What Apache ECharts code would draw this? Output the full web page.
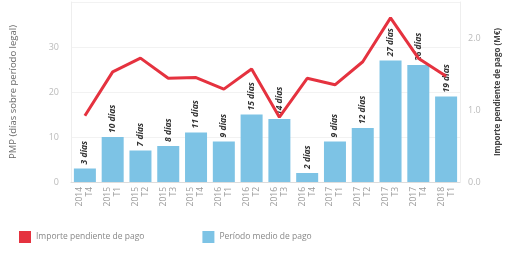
<!DOCTYPE html>
<html>
<head>
<meta charset="utf-8">
<script src="https://cdn.jsdelivr.net/npm/echarts@6/dist/echarts.min.js"></script>
<style>
  html, body { margin: 0; padding: 0; background: #fff; }
  #chart { width: 510px; height: 255px; }
</style>
</head>
<body>
<div id="chart"></div>
<script>
// trimestres
var categories = ['2014\nT4', '2015\nT1', '2015\nT2', '2015\nT3', '2015\nT4', '2016\nT1', '2016\nT2',
  '2016\nT3', '2016\nT4', '2017\nT1', '2017\nT2', '2017\nT3', '2017\nT4', '2018\nT1'];
// periodo medio de pago (dias)
var pmpDias = [3, 10, 7, 8, 11, 9, 15, 14, 2, 9, 12, 27, 26, 19];
// importe pendiente de pago (M€)
var importe = [0.92, 1.53, 1.72, 1.44, 1.45, 1.29, 1.57, 0.9, 1.44, 1.35, 1.67, 2.28, 1.72, 1.47];

var myChart = echarts.init(document.getElementById('chart'));
myChart.setOption({
  animation: false,
  textStyle: { fontFamily: 'Open Sans' },
  grid: { left: 66, right: 47, top: 2, bottom: 73 },
  legend: {
    left: 14, bottom: 7,
    itemWidth: 12, itemHeight: 12, itemGap: 58,
    icon: 'rect',
    textStyle: { fontSize: 8.5, color: '#888' },
    data: ['Importe pendiente de pago', 'Período medio de pago']
  },
  xAxis: {
    type: 'category',
    data: categories,
    axisLine: { lineStyle: { color: '#ddd' } },
    axisTick: { show: false },
    axisLabel: { rotate: 90, fontSize: 8.5, color: '#999', lineHeight: 10, margin: 5 }
  },
  yAxis: [
    {
      type: 'value', min: 0, max: 40, interval: 10,
      name: 'PMP (días sobre período legal)',
      nameLocation: 'middle', nameGap: 53, nameRotate: 90,
      nameTextStyle: { fontSize: 9.5, color: '#666' },
      axisLine: { show: true, lineStyle: { color: '#eee' } },
      axisLabel: { fontSize: 9, color: '#bbb', showMaxLabel: false, margin: 12 },
      splitLine: { lineStyle: { color: '#f2f2f2' } }
    },
    {
      type: 'value', min: 0, max: 2.5, interval: 1,
      name: 'Importe pendiente de pago (M€)',
      nameLocation: 'middle', nameGap: 34, nameRotate: 90,
      nameTextStyle: { fontSize: 8, color: '#444', fontWeight: 'bold' },
      axisLine: { show: true, lineStyle: { color: '#eee' } },
      axisLabel: { fontSize: 9, color: '#bbb', showMaxLabel: false, margin: 8,
        formatter: function (v) { return v.toFixed(1); } },
      splitLine: { show: false }
    }
  ],
  series: [
    {
      name: 'Período medio de pago',
      type: 'bar',
      data: pmpDias,
      barWidth: 22,
      itemStyle: { color: '#7dc3e5' },
      label: {
        show: true, position: 'top', rotate: 90, align: 'left', verticalAlign: 'middle',
        distance: 4, fontSize: 8.5, fontStyle: 'italic', fontWeight: 'bold', color: '#333',
        formatter: function (p) { return p.value + ' días'; }
      }
    },
    {
      name: 'Importe pendiente de pago',
      type: 'line',
      yAxisIndex: 1,
      data: importe,
      symbol: 'none',
      lineStyle: { color: '#e5323f', width: 3 },
      itemStyle: { color: '#e5323f' },
      z: 5
    }
  ]
});
</script>
</body>
</html>
